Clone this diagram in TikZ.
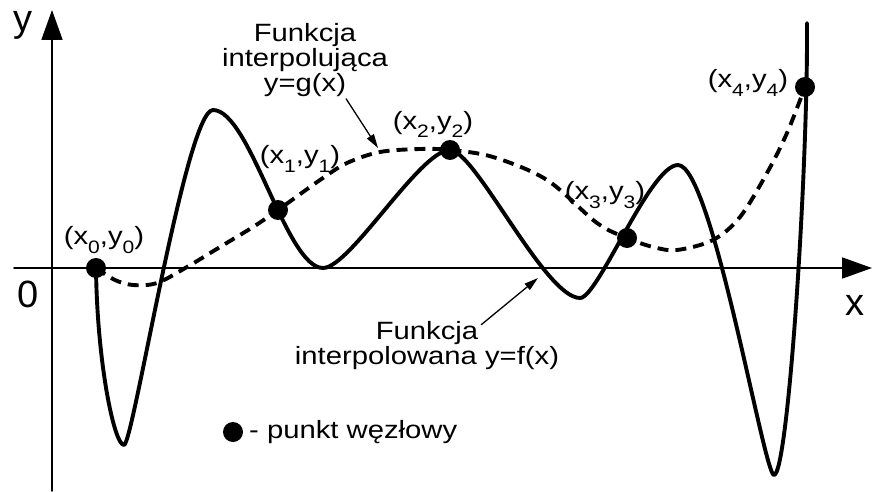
\documentclass[tikz,border=0pt]{standalone}
\usepackage{fontspec}
\setmainfont{Liberation Sans}
\newfontfamily\lblfont{Liberation Sans}[FakeStretch=1.17]
\usetikzlibrary{arrows.meta}
\newcommand{\idx}[1]{\raisebox{-9pt}{\fontsize{18}{18}\selectfont #1}}
\begin{document}
\begin{tikzpicture}[
    x=1pt, y=1pt,
    line cap=round,
    line join=round,
    axis/.style={line width=1.8pt,-{Triangle[length=30pt,width=21pt]}},
    fcurve/.style={line width=3.9pt},
    gcurve/.style={line width=3.9pt,line cap=butt,dash pattern=on 11pt off 7pt},
    pointer/.style={line width=1.3pt,-{Triangle[length=14pt,width=8pt]}},
    knot/.style={circle,fill,inner sep=0pt,minimum size=20pt},
    axlabel/.style={font=\fontsize{38}{38}\selectfont,inner sep=0pt},
    txt/.style={font=\lblfont\fontsize{25}{25}\selectfont,inner sep=0pt,align=center}
]
\useasboundingbox (0,0) rectangle (872,491);

% -------------------------------------------------
% Osie układu
% -------------------------------------------------

\coordinate (ybot) at (52,0);
\coordinate (ytop) at (52,481);
\coordinate (xleft) at (14,223);
\coordinate (xright) at (872,223);

\draw[axis] (ybot)--(ytop);
\draw[axis] (xleft)--(xright);

\node[axlabel,anchor=base] (ylab) at (23,459) {y};
\node[axlabel,anchor=base] (xlab) at (855,176) {x};
\node[axlabel,anchor=base] (zlab) at (28,184) {0};

% -------------------------------------------------
% Funkcja interpolowana y=f(x)
% (odcinki między kolejnymi ekstremami)
% -------------------------------------------------

\draw[fcurve] (96,223)
    .. controls (97,130) and (114,46) .. (124,46)
    .. controls (133,46) and (186,381) .. (213,381)
    .. controls (250,381) and (286,223) .. (323,223)
    .. controls (350,223) and (420,341) .. (450,341)
    .. controls (475,341) and (545,193) .. (580,193)
    .. controls (598,193) and (650,326) .. (678,326)
    .. controls (712,326) and (764,16) .. (774,16)
    .. controls (788,16) and (808,320) .. (807,468);

% -------------------------------------------------
% Funkcja interpolująca y=g(x)
% -------------------------------------------------

\draw[gcurve] plot[smooth,tension=0.55] coordinates {
    (96,223) (115,211) (133,206) (157,208) (187,224) (220,244)
    (253,264) (278,281) (320,311) (347,328) (380,339) (420,342)
    (450,341) (493,334) (547,311) (597,268) (627,253) (653,244)
    (677,241) (713,251) (740,274) (767,318) (787,358) (805,404)};

% -------------------------------------------------
% Punkty węzłowe
% -------------------------------------------------

\node[knot] (P0) at (96,223) {};
\node[knot] (P1) at (278,281) {};
\node[knot] (P2) at (450,341) {};
\node[knot] (P3) at (627,253) {};
\node[knot] (P4) at (805,404) {};

\node[txt,anchor=base] (L0) at (104,247) {(x\idx{0},y\idx{0})};
\node[txt,anchor=base] (L1) at (300,328) {(x\idx{1},y\idx{1})};
\node[txt,anchor=base] (L2) at (433,362) {(x\idx{2},y\idx{2})};
\node[txt,anchor=base] (L3) at (605,292) {(x\idx{3},y\idx{3})};
\node[txt,anchor=base] (L4) at (748,403) {(x\idx{4},y\idx{4})};

% -------------------------------------------------
% Opisy funkcji
% -------------------------------------------------

\node[txt] (gtxt) at (305,431) {Funkcja\\interpolująca\\y=g(x)};
\coordinate (gtip) at (378,343);
\draw[pointer] ([xshift=-42pt,yshift=-2pt]gtxt.south east)--(gtip);

\node[txt] (ftxt) at (427,145) {Funkcja\\interpolowana y=f(x)};
\coordinate (ftip) at (538,213);
\draw[pointer] ([xshift=-78pt,yshift=-3pt]ftxt.north east)--(ftip);

% -------------------------------------------------
% Legenda
% -------------------------------------------------

\node[knot] (legdot) at (233,59) {};
\node[txt,anchor=base west] (legtxt) at (249,53) {- punkt węzłowy};
\end{tikzpicture}
\end{document}
